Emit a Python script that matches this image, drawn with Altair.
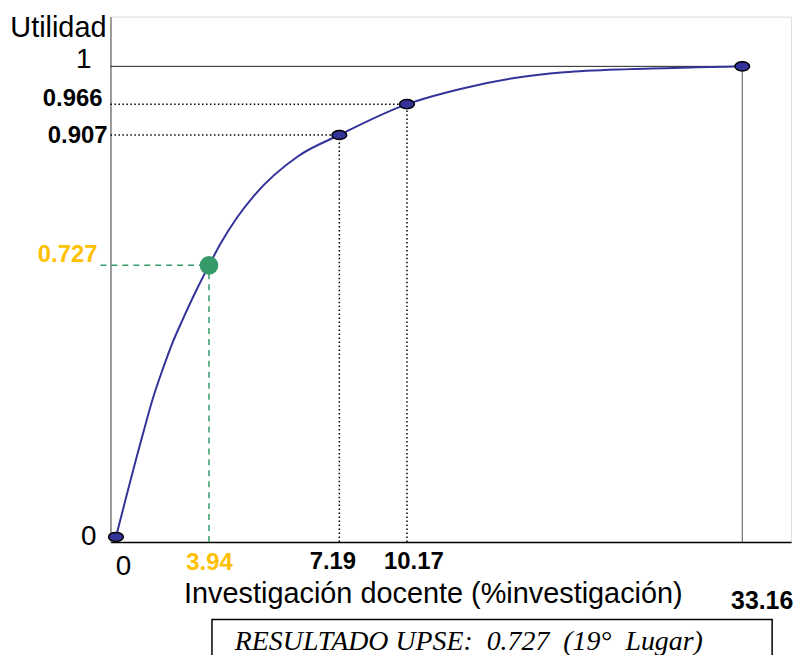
import altair as alt
import pandas as pd

# ---- data ----
key_x = [0, 3.94, 7.19, 10.17, 33.16]
key_y = [0, 0.727, 0.907, 0.966, 1]
x_labels = ["0", "3.94", "7.19", "10.17", "33.16"]
y_labels = ["0", "0.727", "0.907", "0.966", "1"]

curve_x = [0, 1.10, 1.55, 1.97, 2.39, 2.82, 3.41, 3.94, 4.23, 4.64, 5.06, 6.17,
           7.19, 10.17, 14.13, 17.54, 20.95, 25.45, 30.02, 33.16]
curve_y = [0, 0.266, 0.368, 0.447, 0.519, 0.581, 0.661, 0.727, 0.757, 0.793, 0.823, 0.878,
           0.907, 0.966, 0.9806, 0.9895, 0.9946, 0.9975, 0.9991, 1]

x_title = "Investigación docente (%investigación)"
y_title = "Utilidad"
result_text = "RESULTADO UPSE:\u00a0 0.727\u00a0 (19°\u00a0 Lugar)"

# ---- schematic (piecewise) scales ----
X_DOM = [-0.23, 0, 3.94, 7.19, 10.17, 33.16, 36.5]
X_RNG = [0, 5.5, 99, 230, 298, 635, 684]
Y_DOM = [-0.0133, 0, 0.727, 0.907, 0.966, 1, 1.0447]
Y_RNG = [528, 523, 250, 119, 88, 50, 0]
xs = alt.Scale(domain=X_DOM, range=X_RNG, nice=False, zero=False)
ys = alt.Scale(domain=Y_DOM, range=Y_RNG, nice=False, zero=False)

xaxis = alt.Axis(labels=False, ticks=False, grid=False, title=None,
                 domainColor="#000000", domainWidth=1.5)
yaxis = alt.Axis(labels=False, ticks=False, grid=False, title=None,
                 domainColor="#808080", domainWidth=1.5)


def X(f="x"):
    return alt.X(f"{f}:Q", scale=xs, axis=xaxis)


def Y(f="y"):
    return alt.Y(f"{f}:Q", scale=ys, axis=yaxis)


X_LEFT = X_DOM[0]
Y_BOT = Y_DOM[0]
BLUE = "#333399"
GREEN = "#359a68"
ORANGE = "#FFC000"
SANS = "Liberation Sans"

keys = pd.DataFrame({"x": key_x, "y": key_y, "lx": x_labels, "ly": y_labels})
curve = pd.DataFrame({"x": curve_x, "y": curve_y})

# reference lines
dotted = pd.DataFrame({
    "x": [X_LEFT, X_LEFT, key_x[2], key_x[3]],
    "x2": [key_x[2], key_x[3], key_x[2], key_x[3]],
    "y": [key_y[2], key_y[3], Y_BOT, Y_BOT],
    "y2": [key_y[2], key_y[3], key_y[2], key_y[3]],
})
green_lines = pd.DataFrame({
    "x": [X_LEFT - 0.42, key_x[1]],
    "x2": [key_x[1], key_x[1]],
    "y": [key_y[1], Y_BOT],
    "y2": [key_y[1], key_y[1]],
})
top_line = pd.DataFrame({"x": [X_LEFT], "x2": [key_x[4]], "y": [key_y[4]], "y2": [key_y[4]]})
right_line = pd.DataFrame({"x": [key_x[4]], "x2": [key_x[4]], "y": [Y_BOT], "y2": [key_y[4]]})


def rule(df, **kw):
    return alt.Chart(df).mark_rule(**kw).encode(
        x=X("x"), x2="x2:Q", y=Y("y"), y2="y2:Q")


layers = [
    rule(dotted, color="#000000", strokeWidth=1.5, strokeDash=[1.5, 2.5]),
    rule(green_lines, color=GREEN, strokeWidth=1.5, strokeDash=[6, 5]),
    rule(top_line, color="#222222", strokeWidth=1),
    rule(right_line, color="#555555", strokeWidth=1),
    alt.Chart(curve).mark_line(interpolate="monotone", color=BLUE, strokeWidth=2).encode(
        x=X(), y=Y()),
]

ELLIPSE = "M-1,0A1,0.62,0,1,1,1,0A1,0.62,0,1,1,-1,0Z"
blue_pts = keys.iloc[[0, 2, 3, 4]]
layers.append(
    alt.Chart(blue_pts).mark_point(shape=ELLIPSE, size=220, filled=True, color=BLUE,
                                   stroke="#000000", strokeWidth=1.5, opacity=1).encode(
        x=X(), y=Y()))
layers.append(
    alt.Chart(keys.iloc[[1]]).mark_circle(size=350, color=GREEN, opacity=1).encode(
        x=X(), y=Y()))

# y tick labels: (row, x px right edge, dy, color, size, weight)
y_specs = [(0, -14, 0, "#000000", 28, "normal"),
           (1, -13, -10, ORANGE, 24, "bold"),
           (2, -3, 1, "#000000", 24, "bold"),
           (3, -8, -5, "#000000", 24, "bold"),
           (4, -19, -6, "#000000", 28, "normal")]
for i, px, dy, col, sz, wt in y_specs:
    layers.append(
        alt.Chart(keys.iloc[[i]]).mark_text(align="right", baseline="middle", font=SANS,
                                            fontSize=sz, fontWeight=wt, color=col, dy=dy).encode(
            x=alt.value(px), y=Y(), text="ly:N"))

# x tick labels: (row, dx, y px, color, size, weight)
x_specs = [(0, 7.5, 553, "#000000", 28, "normal"),
           (1, 0.5, 549.5, ORANGE, 24, "bold"),
           (2, -6.5, 548, "#000000", 24, "bold"),
           (3, 7, 548, "#000000", 24, "bold"),
           (4, 20, 587, "#000000", 25, "bold")]
for i, dx, py, col, sz, wt in x_specs:
    layers.append(
        alt.Chart(keys.iloc[[i]]).mark_text(align="center", baseline="middle", font=SANS,
                                            fontSize=sz, fontWeight=wt, color=col, dx=dx).encode(
            x=X(), y=alt.value(py), text="lx:N"))

one = pd.DataFrame({"a": [0]})
layers.append(
    alt.Chart(one).mark_text(align="right", baseline="middle", font=SANS, fontSize=29,
                             color="#000000").encode(
        x=alt.value(-4), y=alt.value(11.5), text=alt.value(y_title)))
layers.append(
    alt.Chart(one).mark_text(align="center", baseline="middle", font=SANS, fontSize=29,
                             color="#000000").encode(
        x=alt.value(324.5), y=alt.value(580), text=alt.value(x_title)))
layers.append(
    alt.Chart(one).mark_rect(fill="white", stroke="#000000", strokeWidth=1.5).encode(
        x=alt.value(102), x2=alt.value(665), y=alt.value(606), y2=alt.value(680)))
layers.append(
    alt.Chart(one).mark_text(align="left", baseline="middle", font="Liberation Serif",
                             fontStyle="italic", fontSize=28, color="#000000").encode(
        x=alt.value(125), y=alt.value(629), text=alt.value(result_text)))

chart = alt.layer(*layers).properties(
    width=684, height=528,
    padding={"left": 103, "top": 7, "right": 5, "bottom": 112},
    autosize=alt.AutoSizeParams(type="none"),
).configure_view(stroke="#333333", strokeWidth=1).configure(background="white")

chart.save("out.html", embed_options={"renderer": "svg", "actions": False})
